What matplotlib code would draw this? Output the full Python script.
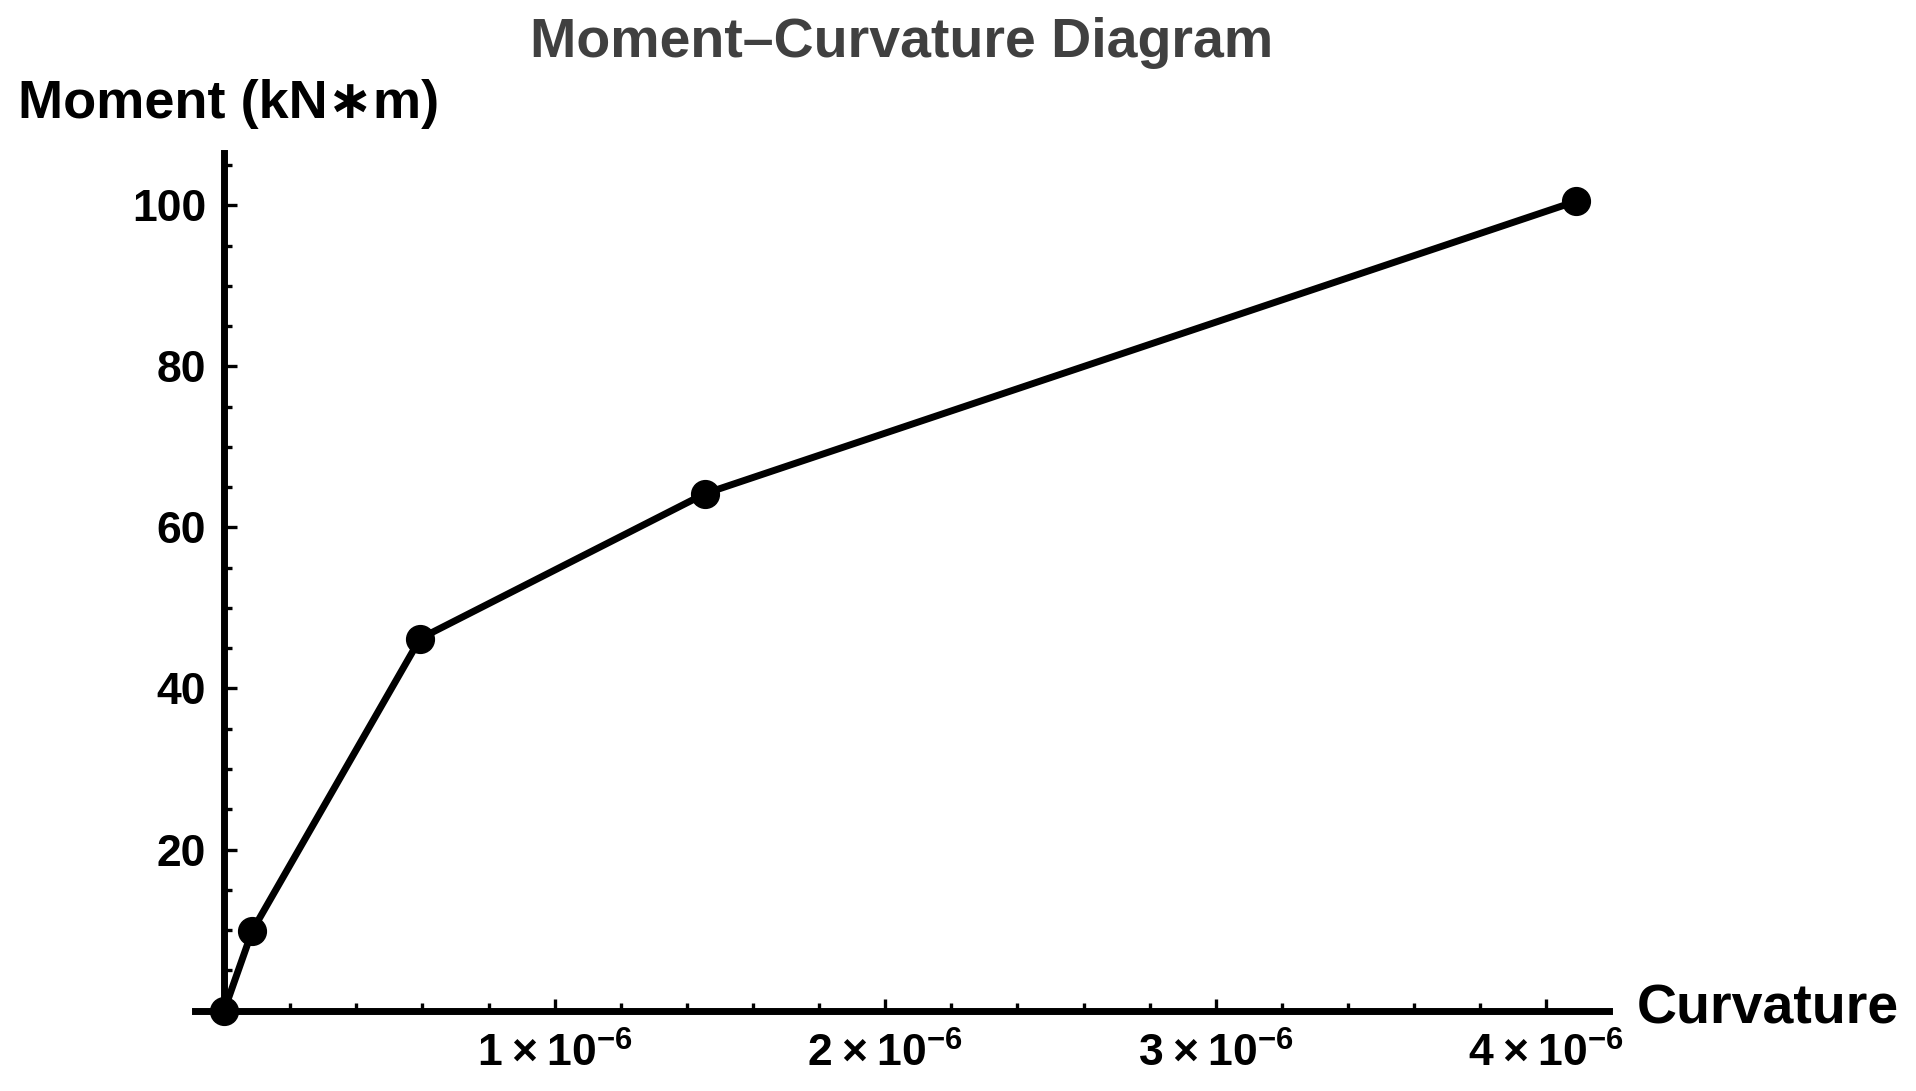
import numpy as np
import matplotlib
matplotlib.use("Agg")
import matplotlib.pyplot as plt
from matplotlib.ticker import MultipleLocator, FuncFormatter

# moment-curvature points
curvature = [0.0, 0.085e-6, 0.593e-6, 1.455e-6, 4.09e-6]
moment = [0.0, 9.9, 46.2, 64.2, 100.5]

plt.rcParams['font.family'] = ['Liberation Sans', 'DejaVu Sans']
plt.rcParams['font.weight'] = 'bold'
plt.rcParams['mathtext.fontset'] = 'custom'
plt.rcParams['mathtext.rm'] = 'Liberation Sans:bold'
plt.rcParams['mathtext.bf'] = 'Liberation Sans:bold'
plt.rcParams['mathtext.default'] = 'bf'

fig = plt.figure(figsize=(19.16, 10.91), dpi=100)
ax = fig.add_axes([0.1018, 0.0678, 0.7380, 0.7920])

ax.plot(curvature, moment, color='black', lw=5, marker='o', ms=20, clip_on=False, zorder=3)

ax.set_xlim(-0.088e-6, 4.19e-6)
ax.set_ylim(-0.8, 106.5)

# mathematica style axes through the origin
for side in ['top', 'right']:
    ax.spines[side].set_visible(False)
for side in ['left', 'bottom']:
    ax.spines[side].set_position(('data', 0))
    ax.spines[side].set_linewidth(5)

ax.xaxis.set_major_locator(MultipleLocator(1e-6))
ax.xaxis.set_minor_locator(MultipleLocator(0.2e-6))
ax.yaxis.set_major_locator(MultipleLocator(20))
ax.yaxis.set_minor_locator(MultipleLocator(5))


def fmt_x(v, pos):
    if abs(v) < 1e-12:
        return ''
    return r'$%d\times10^{-6}$' % round(v * 1e6)


def fmt_y(v, pos):
    if abs(v) < 1e-9:
        return ''
    return '%d' % v


ax.xaxis.set_major_formatter(FuncFormatter(fmt_x))
ax.yaxis.set_major_formatter(FuncFormatter(fmt_y))
ax.tick_params(which='major', direction='in', length=9, width=2.4, labelsize=32, pad=13)
ax.tick_params(axis='x', which='major', pad=16)
ax.tick_params(which='minor', direction='in', length=5.5, width=2.4)

fig.text(0.4707, 0.961, 'Moment\u2013Curvature Diagram', ha='center', va='center',
         fontsize=40, fontweight='bold', color='#404040')
fig.text(0.0094, 0.905, 'Moment (kN\u2217m)', ha='left', va='center', fontsize=39, fontweight='bold')
fig.text(0.8545, 0.075, 'Curvature', ha='left', va='center', fontsize=40, fontweight='bold')

fig.savefig('out.png', dpi=100)
